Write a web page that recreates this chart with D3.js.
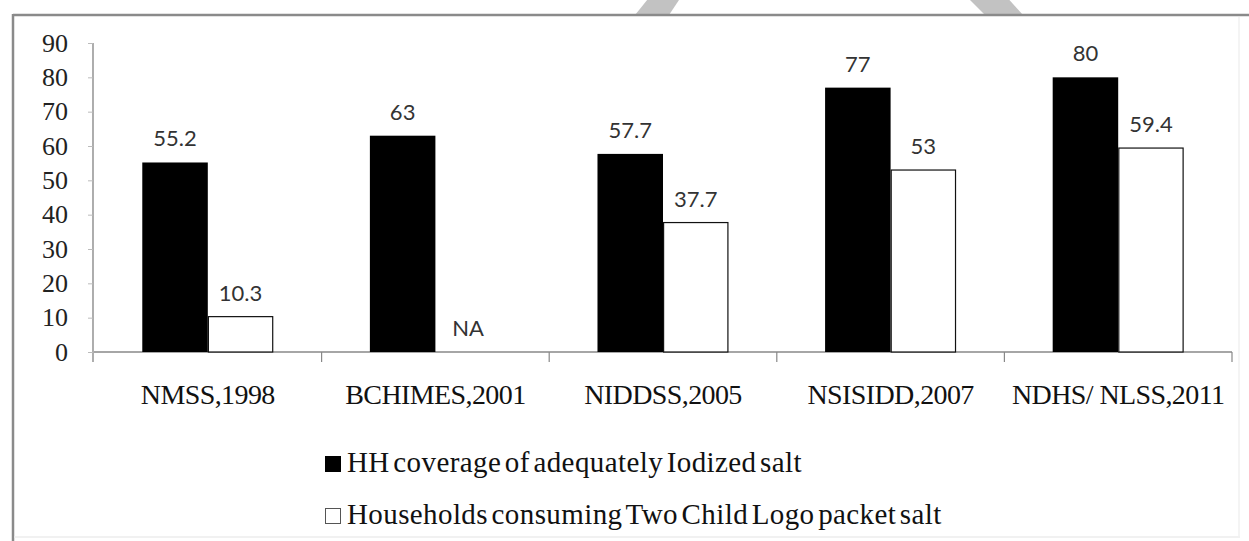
<!DOCTYPE html>
<html>
<head>
<meta charset="utf-8">
<script src="https://cdn.jsdelivr.net/npm/d3@7/dist/d3.min.js"></script>
<style>
  html, body { margin: 0; padding: 0; background: #fff; }
  svg { display: block; }
  .serif { font-family: 'Liberation Serif', 'Times New Roman', serif; }
  .sans { font-family: Lato, 'Open Sans', sans-serif; }
</style>
</head>
<body>
<svg id="chart" width="1249" height="541"></svg>
<script>
// Survey rounds and their results (percent of households)
const categories = ["NMSS,1998", "BCHIMES,2001", "NIDDSS,2005", "NSISIDD,2007", "NDHS/ NLSS,2011"];
const coverage = [55.2, 63, 57.7, 77, 80];          // HH coverage of adequately iodized salt
const twoChildLogo = [10.3, null, 37.7, 53, 59.4];  // Two Child Logo packet salt (null = not available)
const yTickValues = [0, 10, 20, 30, 40, 50, 60, 70, 80, 90];
const seriesNames = ["HH coverage of adequately Iodized salt", "Households consuming Two Child Logo packet salt"];

const svg = d3.select("#chart");

svg.append("rect").attr("width", 1249).attr("height", 541).attr("fill", "#fff");

// faint grey strokes along the top edge
const overlay = svg.append("g").attr("fill", "#c2c2c2");
overlay.append("polygon").attr("points", "635,15 669,15 683,-6 652,-6");
overlay.append("polygon").attr("points", "985,15 1023,15 1004,-6 964,-6");

// outer frame
svg.append("line").attr("x1", 13).attr("x2", 1249).attr("y1", 15).attr("y2", 15)
  .attr("stroke", "#8a8a8a").attr("stroke-width", 2.5);
svg.append("line").attr("x1", 13).attr("x2", 13).attr("y1", 14).attr("y2", 541)
  .attr("stroke", "#8a8a8a").attr("stroke-width", 2.5);
svg.append("line").attr("x1", 14).attr("x2", 1240).attr("y1", 537).attr("y2", 537)
  .attr("stroke", "#ececec").attr("stroke-width", 1.5);
svg.append("line").attr("x1", 1239).attr("x2", 1239).attr("y1", 17).attr("y2", 537)
  .attr("stroke", "#f0f0f0").attr("stroke-width", 1.5);

// scales
const x0 = d3.scaleBand().domain(categories).range([94, 1232]).paddingInner(0).paddingOuter(0);
const x1 = d3.scaleBand().domain([0, 1]).range([0, x0.bandwidth()]).paddingInner(0).paddingOuter(0.737);
const y = d3.scaleLinear().domain([0, 90]).range([352, 43]);

// y axis
const yAxis = svg.append("g").attr("transform", "translate(93,0)")
  .call(d3.axisLeft(y).tickValues(yTickValues).tickSize(5).tickPadding(20).tickFormat(d3.format("d")))
  .attr("font-family", null).attr("font-size", null);
yAxis.select(".domain").attr("d", `M0,${y(90)}V${y(0) + 10}`).attr("stroke", "#777").attr("stroke-width", 1.2);
yAxis.selectAll(".tick line").attr("stroke", "#bbb");
yAxis.selectAll(".tick text").attr("class", "serif").style("font-size", "26px").attr("fill", "#222");

// x axis baseline and category separators
const xAxis = svg.append("g").attr("transform", `translate(0,${y(0)})`)
  .call(d3.axisBottom(x0).tickSize(0).tickPadding(52))
  .attr("font-family", null).attr("font-size", null);
xAxis.select(".domain").attr("d", `M${x0.range()[0]},0H${x0.range()[1]}`).attr("stroke", "#888").attr("stroke-width", 1.5);
xAxis.selectAll(".tick text").attr("class", "serif").style("font-size", "28px")
  .attr("fill", "#111").attr("letter-spacing", -0.6).attr("dy", 0);
xAxis.selectAll("line.sep")
  .data(categories.slice(1).map(c => x0(c)).concat([x0.range()[1]]))
  .join("line").attr("class", "sep")
  .attr("x1", d => d).attr("x2", d => d).attr("y1", 0).attr("y2", 10)
  .attr("stroke", "#888").attr("stroke-width", 1.2);

// bars
const groups = svg.append("g").selectAll("g")
  .data(categories.map((c, i) => ({ c, vals: [coverage[i], twoChildLogo[i]] })))
  .join("g").attr("transform", d => `translate(${x0(d.c)},0)`);

groups.selectAll("rect")
  .data(d => d.vals.map((v, k) => ({ v, k })).filter(e => e.v !== null))
  .join("rect")
  .attr("x", e => x1(e.k) + (e.k === 1 ? 0.6 : 0))
  .attr("width", e => x1.bandwidth() - (e.k === 1 ? 1.2 : 0))
  .attr("y", e => y(e.v))
  .attr("height", e => y(0) - y(e.v))
  .attr("fill", e => e.k === 0 ? "#000" : "#fff")
  .attr("stroke", e => e.k === 0 ? "none" : "#111")
  .attr("stroke-width", 1.2);

// value labels
groups.selectAll("text.val")
  .data(d => d.vals.map((v, k) => ({ v, k })))
  .join("text").attr("class", "val sans")
  .attr("x", e => x1(e.k) + x1.bandwidth() / 2)
  .attr("y", e => y(e.v === null ? 0 : e.v) - 16)
  .attr("text-anchor", "middle")
  .style("font-size", "22px").attr("fill", "#333")
  .text(e => e.v === null ? "NA" : String(e.v));

// legend
const legend = svg.append("g");
const legendRows = legend.selectAll("g").data(seriesNames).join("g")
  .attr("transform", (d, i) => `translate(325,${472 + i * 52})`);
legendRows.append("rect").attr("x", 0.5).attr("y", -15.5).attr("width", 15).attr("height", 15)
  .attr("fill", (d, i) => i === 0 ? "#000" : "#fff")
  .attr("stroke", (d, i) => i === 0 ? "#000" : "#555").attr("stroke-width", 1);
legendRows.append("text").attr("class", "serif").attr("x", 22).attr("y", 0)
  .style("font-size", "29px").attr("fill", "#111")
  .attr("letter-spacing", 0.4).attr("word-spacing", -4)
  .text(d => d);
</script>
</body>
</html>
